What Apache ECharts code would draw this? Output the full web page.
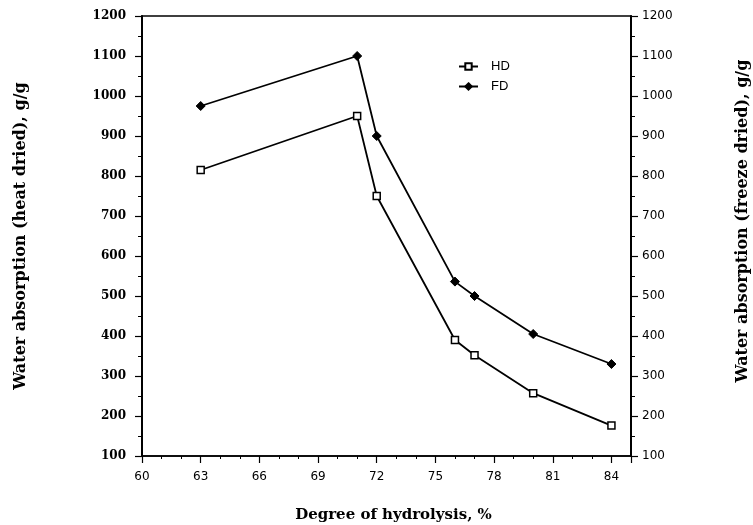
<!DOCTYPE html>
<html>
<head>
<meta charset="utf-8">
<script src="https://cdn.jsdelivr.net/npm/echarts@6/dist/echarts.min.js"></script>
<style>
  html, body { margin: 0; padding: 0; background: #fff; }
  #chart { width: 753px; height: 525px; }
</style>
</head>
<body>
<div id="chart"></div>
<script>
const hydrolysis = [63, 71, 72, 76, 77, 80, 84];
const heatDried = [815, 950, 750, 390, 352, 257, 176];
const freezeDried = [975, 1100, 900, 536, 500, 405, 330];

const chart = echarts.init(document.getElementById('chart'));

const serifBold = { fontFamily: 'DejaVu Serif', fontWeight: 'bold', color: '#000' };
const sans = { fontFamily: 'DejaVu Sans', color: '#000' };

const yAxisBase = {
  type: 'value',
  min: 100,
  max: 1200,
  interval: 100,
  nameLocation: 'middle',
  splitLine: { show: false },
  axisLine: { show: true, lineStyle: { color: '#000', width: 2 } },
  axisTick: { show: true, length: 7, lineStyle: { color: '#000', width: 1.2 } },
  minorTick: { show: true, splitNumber: 2, length: 4, lineStyle: { color: '#000', width: 1 } }
};

chart.setOption({
  animation: false,
  backgroundColor: '#fff',
  grid: {
    left: 142, right: 122, top: 16, bottom: 69,
    outerBoundsMode: 'none',
    show: true, borderColor: '#000', borderWidth: 1.5
  },
  legend: {
    orient: 'vertical',
    left: 453, top: 55,
    itemWidth: 19, itemHeight: 8, itemGap: 7,
    data: ['HD', 'FD'],
    textStyle: { fontFamily: 'Liberation Sans Narrow, Liberation Sans', fontSize: 13, color: '#000', padding: [0, 0, 0, 8] }
  },
  xAxis: {
    type: 'value',
    min: 60,
    max: 85,
    interval: 3,
    name: 'Degree of hydrolysis, %',
    nameLocation: 'middle',
    nameGap: 52,
    nameTextStyle: { ...serifBold, fontSize: 15, padding: [0, 0, 0, 14] },
    splitLine: { show: false },
    axisLine: { lineStyle: { color: '#000', width: 1.5 } },
    axisTick: { length: 7, lineStyle: { color: '#000', width: 1.2 } },
    minorTick: { show: true, splitNumber: 3, length: 3, lineStyle: { color: '#000', width: 1 } },
    axisLabel: { ...sans, fontSize: 12, margin: 15, showMaxLabel: false }
  },
  yAxis: [
    {
      ...yAxisBase,
      position: 'left',
      name: 'Water absorption (heat dried), g/g',
      nameGap: 113,
      nameTextStyle: { ...serifBold, fontSize: 16 },
      axisLabel: { ...serifBold, fontSize: 12, margin: 16, formatter: (v) => String(v) }
    },
    {
      ...yAxisBase,
      position: 'right',
      name: 'Water absorption (freeze dried), g/g',
      nameGap: 104,
      nameTextStyle: { ...serifBold, fontSize: 16, padding: [0, 0, 0, 30] },
      axisLabel: { ...sans, fontSize: 12, margin: 11, formatter: (v) => String(v) }
    }
  ],
  series: [
    {
      name: 'HD',
      type: 'line',
      yAxisIndex: 0,
      data: hydrolysis.map((x, i) => [x, heatDried[i]]),
      symbol: 'rect',
      symbolSize: 7,
      showAllSymbol: true,
      lineStyle: { color: '#000', width: 1.8 },
      itemStyle: { color: '#fff', borderColor: '#000', borderWidth: 1.5 }
    },
    {
      name: 'FD',
      type: 'line',
      yAxisIndex: 1,
      data: hydrolysis.map((x, i) => [x, freezeDried[i]]),
      symbol: 'diamond',
      symbolSize: 9,
      showAllSymbol: true,
      lineStyle: { color: '#000', width: 1.8 },
      itemStyle: { color: '#000', borderColor: '#000', borderWidth: 1 }
    }
  ]
});
</script>
</body>
</html>
